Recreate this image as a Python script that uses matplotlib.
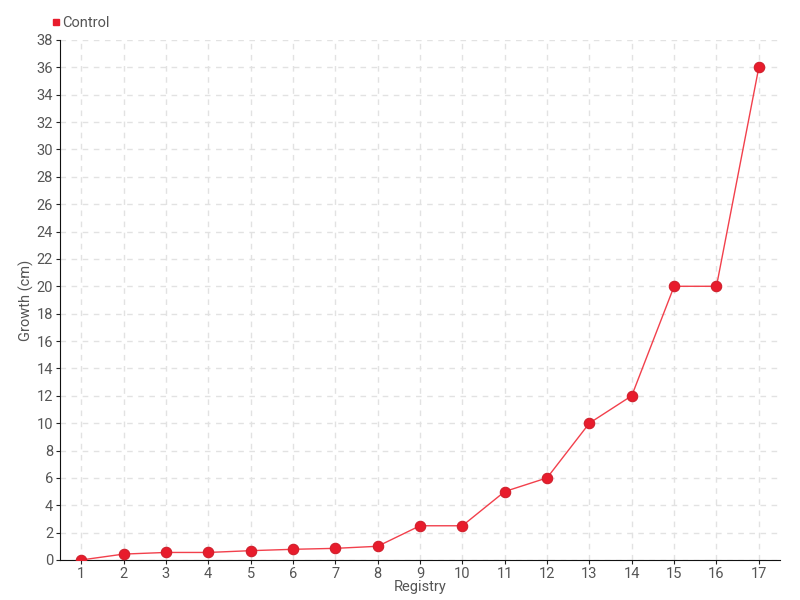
import matplotlib
matplotlib.use('Agg')
import matplotlib.pyplot as plt

# Datos
registry = list(range(1, 18))
growth = [0, 0.43, 0.55, 0.55, 0.68, 0.78, 0.85, 1.0, 2.5, 2.5, 5, 6, 10, 12, 20, 20, 36]
yticks = list(range(0, 39, 2))

plt.rcParams['font.family'] = ['Roboto', 'DejaVu Sans']

fig = plt.figure(figsize=(8, 6), dpi=100)
ax = fig.add_axes([0.075, 0.0667, 0.9, 0.8667])

ax.plot(registry, growth, color='#f2404c', linewidth=1, marker='o',
        markersize=7.5, markerfacecolor='#e81c2c', markeredgecolor='#d0202c',
        markeredgewidth=0.8, label='Control', zorder=3)

ax.set_xlim(0.5, 17.5)
ax.set_ylim(0, 38)
ax.set_xticks(registry)
ax.set_yticks(yticks)
ax.tick_params(axis='both', colors='#222222', labelcolor='#555555', labelsize=10.5,
               length=3, pad=2)

ax.grid(True, color='#e2e2e2', linestyle=(0, (4, 4)), linewidth=1)
ax.set_axisbelow(True)
for s in ['top', 'right']:
    ax.spines[s].set_visible(False)
ax.spines['left'].set_color('#111111')
ax.spines['bottom'].set_color('#111111')

ax.set_xlabel('Registry', color='#555555', fontsize=10.5, labelpad=-1)
ax.set_ylabel('Growth (cm)', color='#555555', fontsize=10.5, labelpad=2)

# Leyenda
handle = plt.Line2D([], [], linestyle='none', marker='s', markersize=5,
                    color='#e81c2c')
fig.legend([handle], ['Control'], loc='upper left', bbox_to_anchor=(0.048, 0.995),
           frameon=False, handletextpad=0.1, handlelength=0.6,
           fontsize=10.5, labelcolor='#555555')

fig.savefig('out.png', dpi=100)
